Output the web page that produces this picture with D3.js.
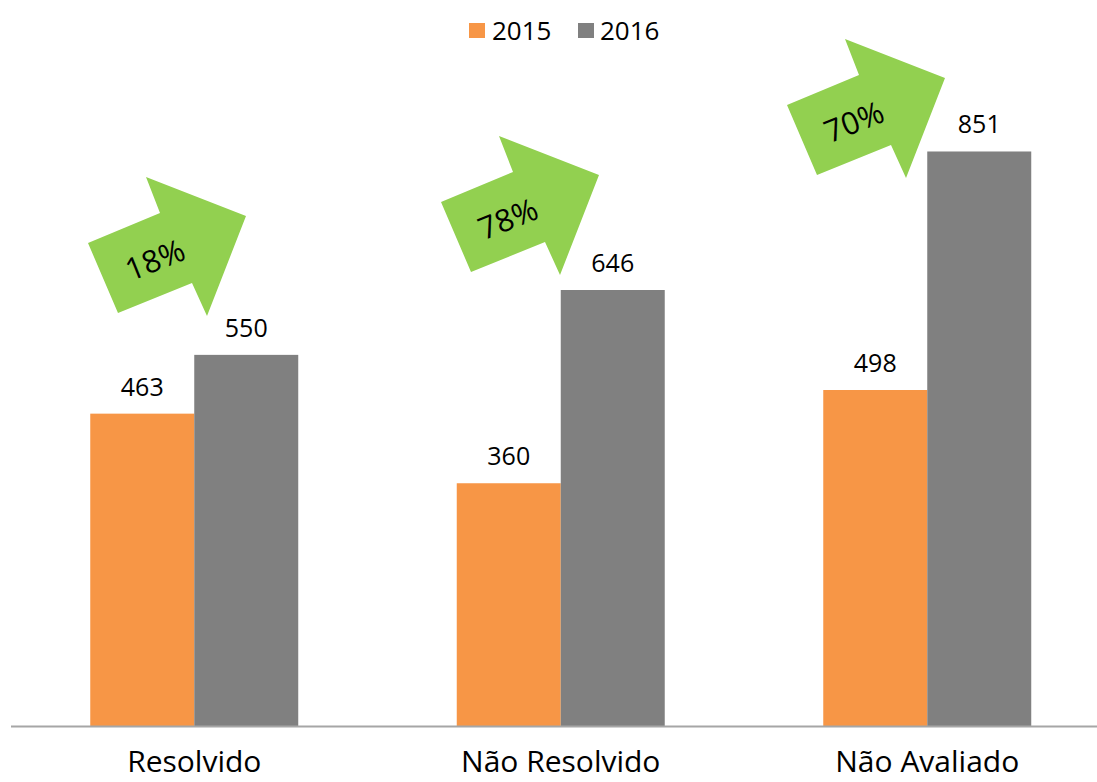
<!DOCTYPE html>
<html>
<head>
<meta charset="utf-8">
<script src="https://cdn.jsdelivr.net/npm/d3@7"></script>
<style>
  html, body { margin: 0; padding: 0; background: #fff; }
  svg { display: block; font-family: "Open Sans", "Noto Sans", sans-serif; }
</style>
</head>
<body>
<svg id="chart" width="1097" height="782"></svg>
<script>
// ---- data ----
const categories = ["Resolvido", "Não Resolvido", "Não Avaliado"];
const seriesNames = ["2015", "2016"];
const values2015 = [463, 360, 498];
const values2016 = [550, 646, 851];
const growthLabels = ["18%", "78%", "70%"];

// ---- layout / style ----
const W = 1097, H = 782;
const colors = { "2015": "#F79646", "2016": "#808080" };
const arrowColor = "#92D050";
const baselineY = 726.5;
// arrow anchors (tail top corner) and shared shape
const arrowAnchors = [[88, 243], [441, 202], [787, 105]];
const arrowShape = [[0,0],[72,-30],[58,-66],[158,-27],[119,73],[104,40],[30,70]];
const arrowTextPos = [67, 17];

const svg = d3.select("#chart");

const x0 = d3.scaleBand().domain(categories).range([11, 1110.5])
  .paddingInner(0.4325).paddingOuter(0.21625);
const x1 = d3.scaleBand().domain(seriesNames).range([0, x0.bandwidth()]);
const y = d3.scaleLinear().domain([0, 900]).range([baselineY, baselineY - 0.6757 * 900]);

const rows = categories.map((c, i) => ({
  cat: c,
  vals: [{ s: "2015", v: values2015[i] }, { s: "2016", v: values2016[i] }]
}));

const g = svg.append("g");
const groups = g.selectAll("g.grp").data(rows).join("g")
  .attr("transform", d => `translate(${x0(d.cat)},0)`);

groups.selectAll("rect").data(d => d.vals).join("rect")
  .attr("x", d => x1(d.s))
  .attr("width", x1.bandwidth())
  .attr("y", d => y(d.v))
  .attr("height", d => y(0) - y(d.v))
  .attr("fill", d => colors[d.s]);

groups.selectAll("text.val").data(d => d.vals).join("text")
  .attr("class", "val")
  .attr("x", d => x1(d.s) + x1.bandwidth() / 2)
  .attr("y", d => y(d.v) - 18)
  .attr("text-anchor", "middle")
  .attr("font-size", 25)
  .attr("fill", "#000")
  .text(d => d.v);

// axis (baseline)
const xAxis = d3.axisBottom(x0).tickSize(0).tickPadding(24);
const ax = svg.append("g").attr("transform", `translate(0,${baselineY})`).call(xAxis);
ax.select(".domain").attr("d", `M11,0H${W}`).attr("stroke", "#A6A6A6").attr("stroke-width", 2);
ax.selectAll(".tick text").attr("font-size", 30).attr("fill", "#000")
  .attr("font-family", "'Open Sans', 'Noto Sans', sans-serif").attr("dy", "0.71em");

// arrows
const line = d3.line();
const arr = svg.append("g").selectAll("g").data(growthLabels).join("g")
  .attr("transform", (d, i) => `translate(${arrowAnchors[i][0]},${arrowAnchors[i][1]})`);
arr.append("path")
  .attr("d", line(arrowShape) + "Z")
  .attr("fill", arrowColor);
arr.append("text")
  .attr("transform", `translate(${arrowTextPos[0]},${arrowTextPos[1]}) rotate(-22)`)
  .attr("text-anchor", "middle")
  .attr("dy", "0.35em")
  .attr("font-size", 31)
  .attr("fill", "#000")
  .text(d => d);

// legend
const legend = svg.append("g");
const legItems = [{ s: "2015", x: 469, tx: 492 }, { s: "2016", x: 578, tx: 600 }];
legItems.forEach(it => {
  legend.append("rect").attr("x", it.x).attr("y", 23).attr("width", 16).attr("height", 15)
    .attr("fill", colors[it.s]);
  legend.append("text").attr("x", it.tx).attr("y", 40).attr("font-size", 26)
    .attr("fill", "#000").text(it.s);
});
</script>
</body>
</html>
